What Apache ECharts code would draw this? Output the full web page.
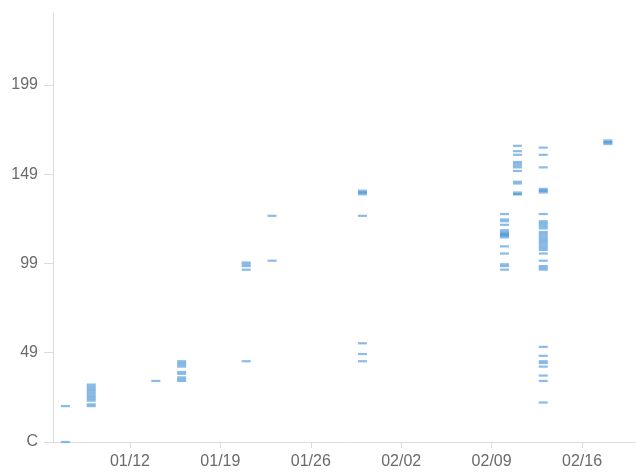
<!DOCTYPE html>
<html>
<head>
<meta charset="utf-8">
<script src="https://cdn.jsdelivr.net/npm/echarts@6/dist/echarts.min.js"></script>
<style>
html,body{margin:0;padding:0;background:#fff;}
#chart{width:636px;height:472px;}
</style>
</head>
<body>
<div id="chart"></div>
<script>
// Dates (MM/DD) of each column of marks
var dates = ['01/07','01/09','01/14','01/16','01/21','01/23','01/30','02/10','02/11','02/13','02/18'];
// Values recorded on each date (one mark per value; repeated values draw darker)
var values = [
  [0, 20],
  [20, 21, 23, 24, 25, 26, 27, 28, 29, 30, 31, 32],
  [34],
  [34, 35, 36, 38, 39, 42, 43, 44, 45],
  [45, 96, 98, 99, 100],
  [101, 126],
  [45, 49, 55, 126, 138, 139, 139, 140],
  [96, 98, 99, 105, 109, 114, 115, 115, 116, 116, 117, 118, 121, 123, 124, 127],
  [138, 138, 139, 144, 145, 151, 153, 154, 155, 156, 160, 162, 165],
  [22, 34, 37, 42, 44, 45, 48, 53, 96, 97, 98, 101, 105, 107, 108, 109, 110, 111, 112, 113, 114, 115, 116, 117, 119, 120, 121, 122, 123, 127, 139, 140, 140, 141, 153, 160, 164],
  [166, 167, 167, 168]
];
// X tick labels (dates)
var xTickLabels = ['01/12','01/19','01/26','02/02','02/09','02/16'];
// Y tick values and labels
var yTickValues = [0, 49.75, 99.5, 149.25, 199];
var yTickLabels = ['C', '49', '99', '149', '199'];

var year = 2015;
function dayOffset(s) {
  var p = s.split('/');
  var d = Date.UTC(year, +p[0] - 1, +p[1]);
  var base = Date.UTC(year, 0, 12);
  return Math.round((d - base) / 86400000);
}
var singles = [], repeats = [];
dates.forEach(function (d, i) {
  var counts = {};
  values[i].forEach(function (v) { counts[v] = (counts[v] || 0) + 1; });
  Object.keys(counts).forEach(function (k) {
    var p = [dayOffset(d), +k];
    if (counts[k] > 1) repeats.push(p); else singles.push(p);
  });
});
var xTickValues = xTickLabels.map(dayOffset);
var xLabelMap = {};
xTickLabels.forEach(function (l) { xLabelMap[dayOffset(l)] = l; });
var yLabelMap = {};
yTickValues.forEach(function (v, i) { yLabelMap[v] = yTickLabels[i]; });

var chart = echarts.init(document.getElementById('chart'), null, {renderer: 'canvas'});
chart.setOption({
  animation: false,
  grid: {left: 53, top: 13, right: 0, bottom: 30, containLabel: false},
  xAxis: {
    type: 'value',
    min: -5.96,
    max: 39.18,
    splitLine: {show: false},
    axisLine: {show: true, onZero: false, lineStyle: {color: '#dcdcdc', width: 1}},
    axisTick: {show: true, customValues: xTickValues, length: 6, lineStyle: {color: '#dcdcdc'}},
    axisLabel: {
      customValues: xTickValues,
      formatter: function (v) { return xLabelMap[Math.round(v)] || ''; },
      color: '#6a6a6a', fontSize: 16, fontFamily: 'Liberation Sans, Arial, sans-serif', margin: 12
    }
  },
  yAxis: {
    type: 'value',
    min: 0,
    max: 239,
    splitLine: {show: false},
    axisLine: {show: true, onZero: false, lineStyle: {color: '#dcdcdc', width: 1}},
    axisTick: {show: true, customValues: yTickValues, length: 9, lineStyle: {color: '#dcdcdc'}},
    axisLabel: {
      customValues: yTickValues,
      formatter: function (v) { return yLabelMap[v] !== undefined ? yLabelMap[v] : ''; },
      color: '#6a6a6a', fontSize: 16, fontFamily: 'Liberation Sans, Arial, sans-serif', margin: 15
    }
  },
  series: [{
    type: 'scatter',
    data: singles,
    symbol: 'rect',
    symbolSize: [9, 2.2],
    itemStyle: {color: '#6eaae0'},
    emphasis: {disabled: true}
  }, {
    type: 'scatter',
    data: repeats,
    symbol: 'rect',
    symbolSize: [9, 2.2],
    itemStyle: {color: '#3a89d3'},
    emphasis: {disabled: true}
  }]
});
</script>
</body>
</html>
